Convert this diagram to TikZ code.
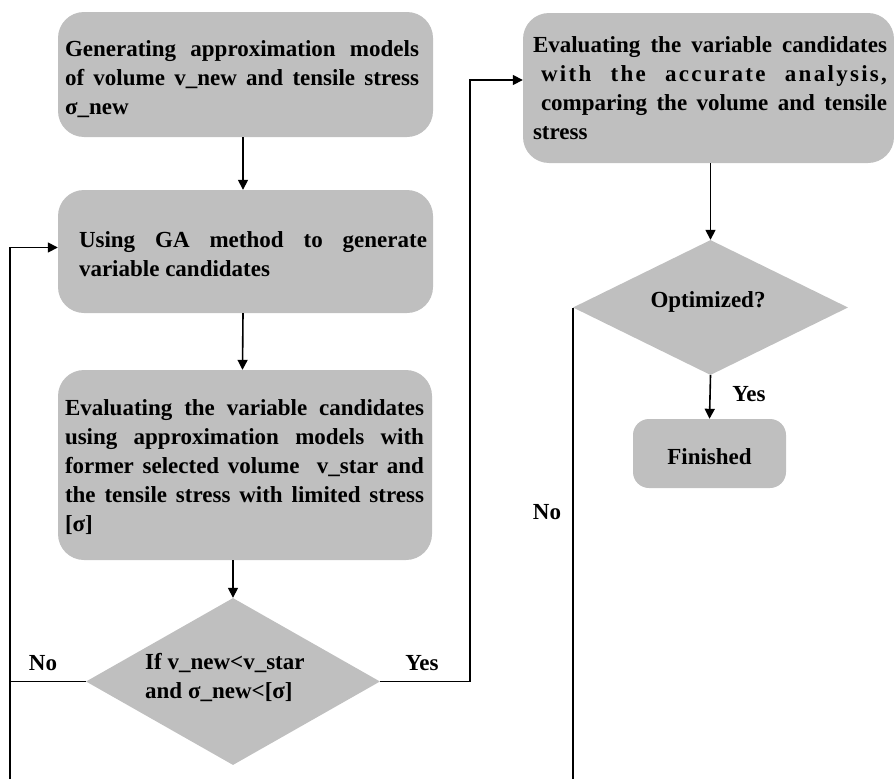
\documentclass[tikz,border=0pt]{standalone}
\usepackage{fontspec}
\setmainfont{Liberation Serif}
\usetikzlibrary{shapes.geometric,arrows.meta,calc}
\definecolor{boxgray}{RGB}{191,191,191}
\begin{document}
\begin{tikzpicture}[x=1pt,y=-1pt,
  box/.style={rectangle, fill=boxgray, rounded corners=26pt, inner sep=0pt},
  dec/.style={diamond, fill=boxgray, inner sep=0pt},
  txt/.style={font=\fontsize{23}{29}\selectfont\bfseries, align=justify, inner sep=0pt},
  lbl/.style={font=\fontsize{23}{29}\selectfont\bfseries, inner sep=0pt},
  conn/.style={line width=1.6pt},
  arr/.style={conn, -{Triangle[length=10pt,width=10pt]}}
]
\useasboundingbox (0,0) rectangle (894,779);

% boxes
\node[box, minimum width=375pt, minimum height=125pt] (b1) at (245.5,74.5) {};
\node[box, minimum width=375pt, minimum height=123pt] (b2) at (245.5,251.5) {};
\node[box, minimum width=374pt, minimum height=190pt] (b3) at (245,465) {};
\node[box, minimum width=371pt, minimum height=150pt] (b4) at (708.5,88) {};
\node[dec, minimum width=294pt, minimum height=167pt] (d1) at (233,681.5) {};
\node[dec, minimum width=275pt, minimum height=135pt] (d2) at (710.5,307.5) {};
\node[box, rounded corners=16pt, minimum width=153pt, minimum height=69pt, lbl] (fin) at (709.5,453.5) {};

% texts
\node[txt, text width=354pt] (t1) at (242,79) {Generating approximation models\linebreak{} of volume v\_new and tensile stress\linebreak{} σ\_new};
\node[txt, text width=348pt] (t2) at (253,254.5) {Using GA method to generate\linebreak{} variable candidates};
\node[txt, text width=359pt] (t3) at (244.5,467) {Evaluating the variable candidates\linebreak{} using approximation models with\linebreak{} former selected volume\ \ v\_star and\linebreak{} the tensile stress with limited stress\linebreak{}[σ]};
\node[txt, text width=354pt] (t4) at (710,88) {Evaluating the variable candidates\linebreak{}\hspace*{8pt}{\addfontfeature{LetterSpace=10}with the accurate analysis,}\linebreak{}\hspace*{8pt}comparing the volume and tensile\linebreak{} stress};
\node[lbl, align=left, anchor=west] (dt1) at (145,677.5) {If v\_new<v\_star\\and σ\_new<[σ]};
\node[lbl] (dt2) at (708,302) {Optimized?};
\node[lbl] (ft) at (709.5,457) {Finished};

% labels
\node[lbl] (no1) at (43,663) {No};
\node[lbl] (yes1) at (422,663) {Yes};
\node[lbl] (yes2) at (749,394) {Yes};
\node[lbl] (no2) at (547,512) {No};

% connectors
\coordinate (lbot) at (10,779);
\coordinate (ryes) at (470,681.5);
\coordinate (rbot) at (573,779);
\draw[arr] ([xshift=-2.5pt]b1.south) -- ([xshift=-2.5pt]b2.north);
\draw[arr] ([xshift=-2.5pt]b2.south) -- ([xshift=-2.5pt]b3.north);
\draw[arr] (b3.south -| d1.north) -- (d1.north);
\draw[conn] (d1.west) -| (lbot);
\draw[arr] (lbot) |- ([yshift=4pt]b2.west);
\draw[arr] (d1.east) -- (ryes) |- ([yshift=8pt]b4.west);
\draw[arr] (b4.south -| d2.north) -- (d2.north);
\draw[arr] (d2.south) -- (fin.north);
\draw[conn] (d2.west) -- (d2.west |- rbot);
\end{tikzpicture}
\end{document}
